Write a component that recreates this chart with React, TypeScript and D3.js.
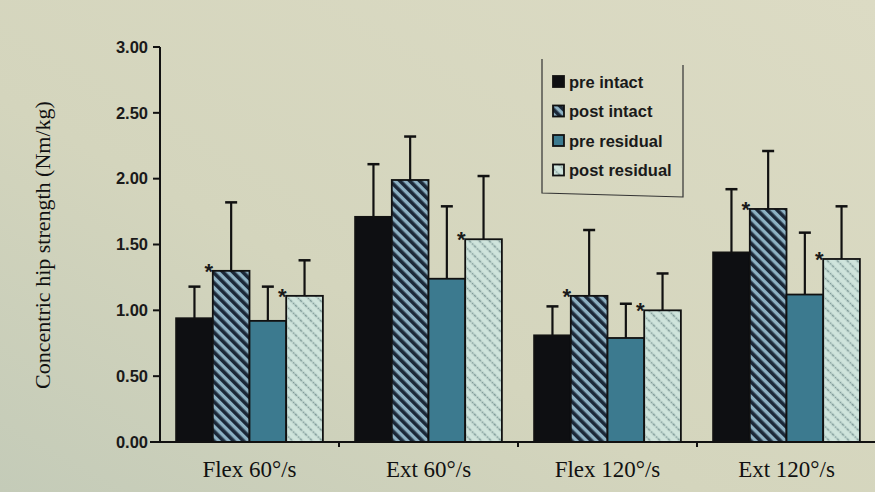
import React from 'react';
import * as d3 from 'd3';

const categories = ['Flex 60°/s', 'Ext 60°/s', 'Flex 120°/s', 'Ext 120°/s'];
const seriesNames = ['pre intact', 'post intact', 'pre residual', 'post residual'];

const preIntact = [0.94, 1.71, 0.81, 1.44];
const preIntactSD = [0.24, 0.40, 0.22, 0.48];
const postIntact = [1.30, 1.99, 1.11, 1.77];
const postIntactSD = [0.52, 0.33, 0.50, 0.44];
const preResidual = [0.92, 1.24, 0.79, 1.12];
const preResidualSD = [0.26, 0.55, 0.26, 0.47];
const postResidual = [1.11, 1.54, 1.00, 1.39];
const postResidualSD = [0.27, 0.48, 0.28, 0.40];

// significant change pre -> post
const postIntactSig = [true, false, true, true];
const postResidualSig = [true, true, true, true];

const yTicks = [0, 0.5, 1, 1.5, 2, 2.5, 3];

const series = [
  { name: seriesNames[0], values: preIntact, sd: preIntactSD, sig: null },
  { name: seriesNames[1], values: postIntact, sd: postIntactSD, sig: postIntactSig },
  { name: seriesNames[2], values: preResidual, sd: preResidualSD, sig: null },
  { name: seriesNames[3], values: postResidual, sd: postResidualSD, sig: postResidualSig },
];

const fills: Record<string, string> = {
  'pre intact': '#0e0f12',
  'post intact': 'url(#hatchDark)',
  'pre residual': '#3c7a8f',
  'post residual': 'url(#hatchLight)',
};

const W = 875;
const H = 492;
const axisX = 160;

export default function App() {
  const x0 = d3.scaleBand().domain(categories).range([160, 876]).paddingInner(0.18).paddingOuter(0.09);
  const x1 = d3.scaleBand().domain(seriesNames).range([0, x0.bandwidth()]);
  const y = d3.scaleLinear().domain([0, 3]).range([442, 47]);
  const fmt = d3.format('.2f');
  const sans = '"Liberation Sans", Arial, sans-serif';
  const serif = '"Liberation Serif", "Times New Roman", serif';
  const step = x0.step();
  const boundaries = categories.slice(1).map(c => (x0(c) as number) - (step - x0.bandwidth()) / 2);

  return (
    <svg width={W} height={H} style={{ position: 'absolute', left: 0, top: 0 }}>
      <defs>
        <linearGradient id="bg" x1="1" y1="0" x2="0" y2="1">
          <stop offset="0" stopColor="#dcdbc4" />
          <stop offset="0.6" stopColor="#d4d5bd" />
          <stop offset="1" stopColor="#c4cbb8" />
        </linearGradient>
        <pattern id="hatchDark" width="7" height="7" patternUnits="userSpaceOnUse" patternTransform="rotate(-45)">
          <rect width="7" height="7" fill="#8db1c3" />
          <rect width="3.6" height="7" fill="#1b2838" />
        </pattern>
        <pattern id="hatchLight" width="7" height="7" patternUnits="userSpaceOnUse" patternTransform="rotate(-45)">
          <rect width="7" height="7" fill="#cfe4dc" />
          <line x1="1.5" y1="0" x2="1.5" y2="7" stroke="#7c9795" strokeWidth="1.6" strokeDasharray="1.6 1.2" />
        </pattern>
      </defs>
      <rect width={W} height={H} fill="url(#bg)" />

      {/* y axis */}
      <line x1={axisX} x2={axisX} y1={y(3)} y2={y(0)} stroke="#111" strokeWidth={2} />
      {yTicks.map(t => (
        <g key={t} transform={`translate(0,${y(t)})`}>
          <line x1={axisX - 7} x2={axisX} stroke="#111" strokeWidth={2} />
          <text x={axisX - 12} dy="0.35em" textAnchor="end" fontFamily={sans} fontWeight="bold" fontSize={16.5} fill="#1a1a1a">
            {fmt(t)}
          </text>
        </g>
      ))}
      <text
        transform={`translate(50,${245}) rotate(-90)`}
        textAnchor="middle"
        fontFamily={serif}
        fontSize={22}
        fill="#111"
      >
        Concentric hip strength (Nm/kg)
      </text>

      {/* bars */}
      {categories.map((cat, i) => (
        <g key={cat} transform={`translate(${x0(cat)},0)`}>
          {series.map(s => {
            const bx = x1(s.name) as number;
            const bw = x1.bandwidth();
            const v = s.values[i];
            const top = y(v + s.sd[i]);
            const cx = bx + bw / 2;
            return (
              <g key={s.name}>
                <line x1={cx} x2={cx} y1={y(v)} y2={top} stroke="#111" strokeWidth={2.2} />
                <line x1={cx - 6} x2={cx + 6} y1={top} y2={top} stroke="#111" strokeWidth={2.5} />
                <rect x={bx} y={y(v)} width={bw} height={y(0) - y(v)} fill={fills[s.name]} stroke="#111" strokeWidth={1.8} />
                {s.sig && s.sig[i] && (
                  <text x={bx - 4} y={y(v) + 8} textAnchor="middle" fontFamily={sans} fontWeight="bold" fontSize={22} fill="#1a1a1a">
                    *
                  </text>
                )}
              </g>
            );
          })}
          <text x={x0.bandwidth() / 2} y={477} textAnchor="middle" fontFamily={serif} fontSize={23} fill="#111">
            {cat}
          </text>
        </g>
      ))}

      {/* x axis */}
      <line x1={150} x2={W} y1={y(0)} y2={y(0)} stroke="#111" strokeWidth={2} />
      {boundaries.map(b => (
        <line key={b} x1={b} x2={b} y1={y(0)} y2={y(0) + 5} stroke="#111" strokeWidth={2} />
      ))}

      {/* legend */}
      <g>
        <polyline points="542,59 542,193 683,197 683,65" fill="none" stroke="#333" strokeWidth={1.2} />
        {seriesNames.map((n, k) => (
          <g key={n} transform={`translate(553,${82 + k * 29.5})`}>
            <rect x={0} y={-6} width={11} height={11} fill={fills[n]} stroke="#111" strokeWidth={1.8} />
            <text x={16} dy="0.35em" fontFamily={sans} fontWeight="bold" fontSize={16.5} fill="#1a1a1a">
              {n}
            </text>
          </g>
        ))}
      </g>
    </svg>
  );
}
